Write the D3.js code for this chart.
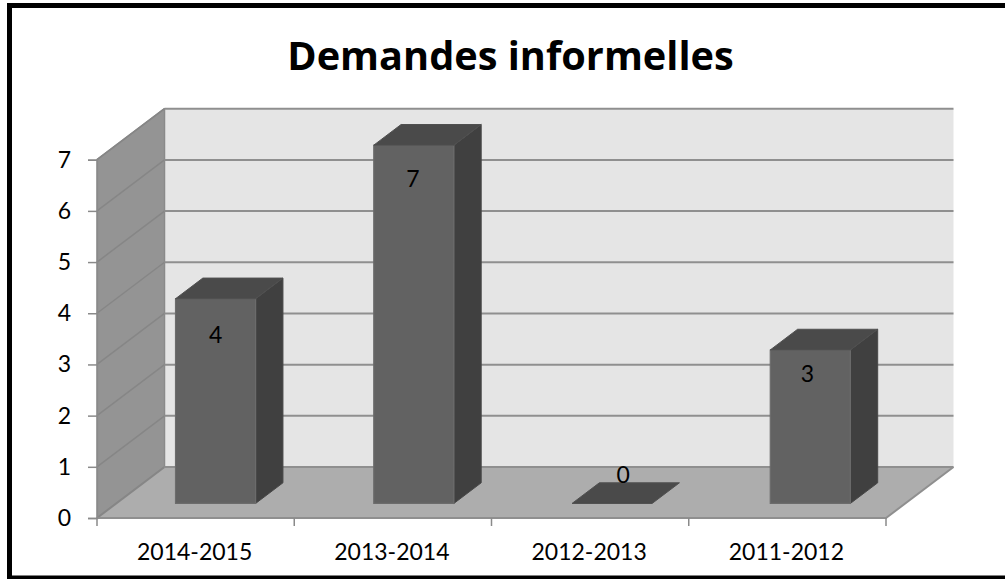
<!DOCTYPE html>
<html>
<head>
<meta charset="utf-8">
<script src="https://cdn.jsdelivr.net/npm/d3@7"></script>
<style>
  html, body { margin: 0; padding: 0; background: #fff; }
  svg { display: block; }
  text { font-family: Lato, "Open Sans", sans-serif; fill: #000; }
</style>
</head>
<body>
<svg id="chart" width="1005" height="579"></svg>
<script>
const chartTitle = "Demandes informelles";
const categories = ["2014-2015", "2013-2014", "2012-2013", "2011-2012"];
const values = [4, 7, 0, 3];
const valueTicks = [0, 1, 2, 3, 4, 5, 6, 7];

const svg = d3.select("#chart");

// Front plane of the 3D box and the oblique offset towards its back plane.
const xAxisBand = d3.scaleBand().domain(categories).range([97, 886]);
const x = d3.scaleBand().domain(categories).range([97.2, 890.2]).paddingInner(0.596).paddingOuter(0.298);
const y = d3.scaleLinear().domain([0, 7]).range([518, 159.7]);
const depthX = d3.scaleLinear().domain([0, 1]).range([0, 67.5]);
const depthY = d3.scaleLinear().domain([0, 1]).range([0, -51]);
const barDepth = [0.285, 0.69];

// Projects (horizontal pixel, value, depth) to a screen point.
const pt = (px, v, d) => [px + depthX(d), y(v) + depthY(d)];
const poly = d3.line();
const yMax = valueTicks[valueTicks.length - 1];
const [x0, x1] = xAxisBand.range();

const drawFace = (g, pts, fill, stroke, sw) =>
  g.append("path").attr("d", poly(pts) + "Z").attr("fill", fill)
    .attr("stroke", stroke).attr("stroke-width", sw).attr("stroke-linejoin", "round");

const walls = svg.append("g");
drawFace(walls, [pt(x0, 0, 1), pt(x0, yMax, 1), pt(x1, yMax, 1), pt(x1, 0, 1)], "#e5e5e5", "none", 0);
drawFace(walls, [pt(x0, 0, 0), pt(x0, yMax, 0), pt(x0, yMax, 1), pt(x0, 0, 1)], "#949494", "#8a8a8a", 1.5);
drawFace(walls, [pt(x0, 0, 0), pt(x1, 0, 0), pt(x1, 0, 1), pt(x0, 0, 1)], "#adadad", "none", 0);

// Gridlines run along the side wall, then across the back wall.
const grid = svg.append("g").attr("fill", "none");
valueTicks.forEach(v => {
  grid.append("path").attr("d", poly([pt(x0, v, 0), pt(x0, v, 1)]))
    .attr("stroke", "#868686").attr("stroke-width", v === 0 ? 2 : 1.5);
  grid.append("path").attr("d", poly([pt(x0, v, 1), pt(x1, v, 1)]))
    .attr("stroke", "#8f8f8f").attr("stroke-width", 2);
});
grid.append("path").attr("d", poly([pt(x0, 0, 0), pt(x1, 0, 0), pt(x1, 0, 1)]))
  .attr("stroke", "#8f8f8f").attr("stroke-width", 2);

// Axes
const yAxis = svg.append("g").attr("transform", `translate(${x0},0)`)
  .call(d3.axisLeft(y).tickValues(valueTicks).tickSize(9).tickPadding(17).tickFormat(d3.format("d")));
yAxis.select(".domain").attr("stroke", "#8a8a8a").attr("stroke-width", 1.5);
yAxis.selectAll("line").attr("stroke", "#8a8a8a").attr("stroke-width", 1.5);
yAxis.selectAll("text").attr("font-size", 23).style("font-family", "Lato");

const edges = categories.map(c => xAxisBand(c)).concat(x1);
svg.append("g").selectAll("line").data(edges).join("line")
  .attr("x1", d => d).attr("x2", d => d)
  .attr("y1", y(0)).attr("y2", y(0) + 8)
  .attr("stroke", "#8a8a8a").attr("stroke-width", 1.5);

svg.append("g").selectAll("text").data(categories).join("text")
  .attr("x", d => xAxisBand(d) + xAxisBand.bandwidth() / 2 - 1)
  .attr("y", 560)
  .attr("text-anchor", "middle")
  .attr("font-size", 23)
  .text(d => d);

// Bars: side, top, then front face.
const bars = svg.append("g");
categories.forEach((c, i) => {
  const v = values[i];
  const l = x(c), r = l + x.bandwidth();
  const [df, db] = barDepth;
  const g = bars.append("g");
  if (v > 0) {
    drawFace(g, [pt(r, 0, df), pt(r, v, df), pt(r, v, db), pt(r, 0, db)], "#404040", "#484848", 1);
    drawFace(g, [pt(l, 0, df), pt(l, v, df), pt(r, v, df), pt(r, 0, df)], "#626262", "#6c6c6c", 1.2);
  }
  drawFace(g, [pt(l, v, df), pt(r, v, df), pt(r, v, db), pt(l, v, db)], "#4a4a4a", "#505050", 1);
});

// Value labels: offsets from the middle of each bar's top front edge.
const labelNudgeX = [0, -1, 11, -3];
const labelNudgeY = [44, 42, -20, 32];
svg.append("g").selectAll("text").data(categories).join("text")
  .attr("x", (c, i) => pt(x(c) + x.bandwidth() / 2, values[i], barDepth[0])[0] + labelNudgeX[i])
  .attr("y", (c, i) => pt(0, values[i], barDepth[0])[1] + labelNudgeY[i])
  .attr("text-anchor", "middle")
  .attr("font-size", 23)
  .text((c, i) => values[i]);

svg.append("text")
  .attr("x", 510.5).attr("y", 70)
  .attr("text-anchor", "middle")
  .attr("font-size", 39.7)
  .attr("font-weight", 700)
  .style("font-family", "'Open Sans'")
  .text(chartTitle);

// Page frame: open on the right-hand side.
svg.append("path").attr("d", "M1005,5.5H9.5V578H1005")
  .attr("fill", "none").attr("stroke", "#000").attr("stroke-width", 5);
</script>
</body>
</html>
